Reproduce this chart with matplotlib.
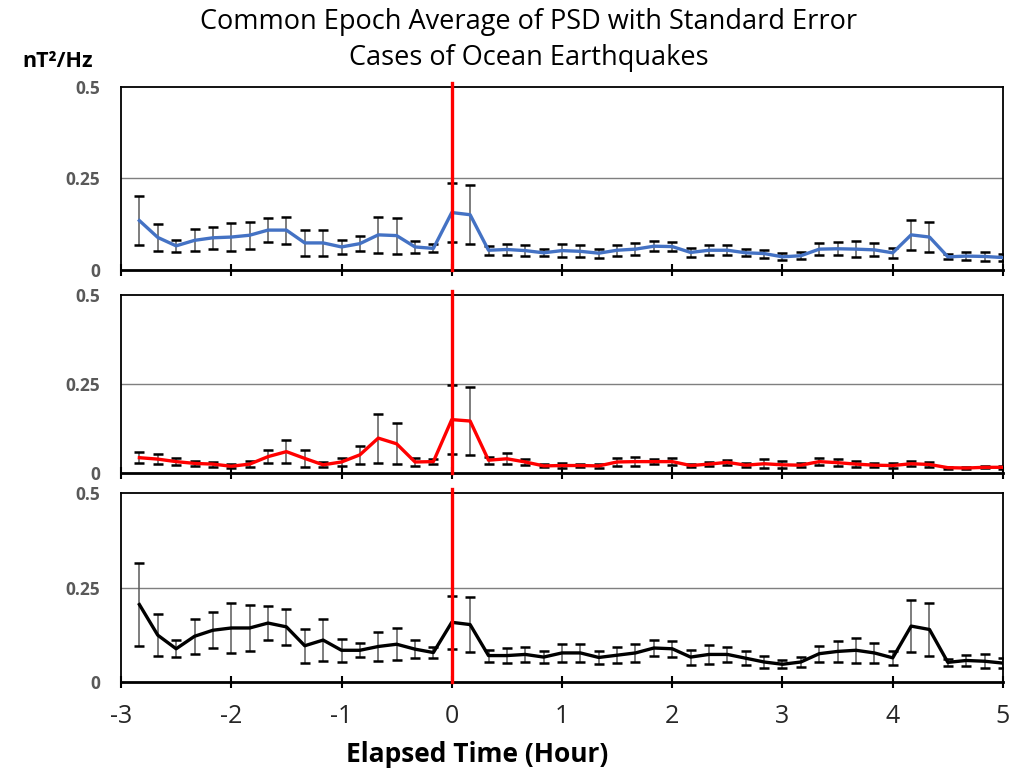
import numpy as np
import matplotlib.pyplot as plt

# elapsed time in minutes, one sample every 10 minutes
minutes = [-170, -160, -150, -140, -130, -120, -110, -100, -90, -80, -70, -60,
           -50, -40, -30, -20, -10, 0, 10, 20, 30, 40, 50, 60, 70, 80, 90, 100,
           110, 120, 130, 140, 150, 160, 170, 180, 190, 200, 210, 220, 230, 240,
           250, 260, 270, 280, 290, 300]

# panel 1 (blue)
psd_1 = [0.135, 0.089, 0.066, 0.081, 0.088, 0.090, 0.095, 0.109, 0.109, 0.074, 0.074,
         0.063, 0.072, 0.096, 0.094, 0.063, 0.059, 0.157, 0.151, 0.054, 0.056,
         0.053, 0.047, 0.053, 0.051, 0.046, 0.054, 0.057, 0.065, 0.064, 0.048, 0.054,
         0.054, 0.047, 0.045, 0.036, 0.039, 0.057, 0.058, 0.057, 0.055, 0.047, 0.096,
         0.090, 0.036, 0.038, 0.037, 0.034]
err_1 = [0.067, 0.037, 0.017, 0.030, 0.030, 0.039, 0.037, 0.032, 0.037, 0.035, 0.036,
         0.020, 0.020, 0.050, 0.049, 0.016, 0.011, 0.080, 0.080, 0.012, 0.015,
         0.014, 0.010, 0.017, 0.016, 0.012, 0.015, 0.016, 0.014, 0.013, 0.012, 0.014,
         0.013, 0.010, 0.011, 0.010, 0.010, 0.016, 0.018, 0.022, 0.018, 0.013, 0.041,
         0.042, 0.007, 0.010, 0.012, 0.010]

# panel 2 (red)
psd_2 = [0.043, 0.039, 0.032, 0.027, 0.025, 0.019, 0.025, 0.046, 0.060, 0.041, 0.023,
         0.031, 0.051, 0.098, 0.082, 0.031, 0.032, 0.150, 0.146, 0.036, 0.040,
         0.031, 0.020, 0.021, 0.021, 0.020, 0.031, 0.032, 0.032, 0.032, 0.021, 0.025,
         0.030, 0.022, 0.026, 0.023, 0.022, 0.032, 0.029, 0.025, 0.022, 0.021, 0.026,
         0.024, 0.015, 0.014, 0.016, 0.016]
err_2 = [0.015, 0.014, 0.010, 0.007, 0.007, 0.005, 0.008, 0.019, 0.032, 0.024, 0.007,
         0.010, 0.025, 0.069, 0.058, 0.010, 0.008, 0.096, 0.096, 0.010, 0.015,
         0.008, 0.004, 0.007, 0.005, 0.005, 0.010, 0.012, 0.008, 0.010, 0.003, 0.005,
         0.007, 0.005, 0.012, 0.010, 0.006, 0.010, 0.010, 0.009, 0.006, 0.007, 0.007,
         0.007, 0.003, 0.003, 0.003, 0.005]

# panel 3 (black)
psd_3 = [0.205, 0.124, 0.088, 0.121, 0.137, 0.143, 0.143, 0.156, 0.146, 0.096, 0.111,
         0.084, 0.084, 0.094, 0.100, 0.087, 0.078, 0.158, 0.152, 0.070, 0.070,
         0.073, 0.066, 0.077, 0.077, 0.065, 0.071, 0.077, 0.090, 0.088, 0.066, 0.073,
         0.073, 0.063, 0.053, 0.047, 0.053, 0.075, 0.081, 0.084, 0.077, 0.064, 0.148,
         0.139, 0.052, 0.057, 0.055, 0.050]
err_3 = [0.110, 0.056, 0.023, 0.046, 0.047, 0.065, 0.062, 0.046, 0.048, 0.045, 0.055,
         0.031, 0.019, 0.038, 0.042, 0.023, 0.014, 0.070, 0.072, 0.016, 0.019,
         0.020, 0.015, 0.023, 0.024, 0.017, 0.021, 0.023, 0.022, 0.021, 0.020, 0.024,
         0.020, 0.018, 0.015, 0.011, 0.014, 0.021, 0.027, 0.033, 0.026, 0.019, 0.068,
         0.069, 0.010, 0.014, 0.019, 0.013]

xticks = [-3, -2, -1, 0, 1, 2, 3, 4, 5]
yticks = [0, 0.25, 0.5]
ytick_labels = ['0', '0.25', '0.5']

plt.rcParams['font.family'] = ['Open Sans', 'DejaVu Sans']

hours = np.array(minutes) / 60.0

fig = plt.figure(figsize=(10.16, 7.71), dpi=100)

# axes boxes in figure fractions [left, bottom, width, height]
boxes = [[0.1191, 0.6498, 0.8681, 0.2374],
         [0.1191, 0.3865, 0.8681, 0.2309],
         [0.1191, 0.1154, 0.8681, 0.2451]]
series = [(psd_1, err_1, '#4472C4'), (psd_2, err_2, '#FF0000'), (psd_3, err_3, 'black')]

for i, (box, (y, e, col)) in enumerate(zip(boxes, series)):
    ax = fig.add_axes(box)
    ax.set_xlim(-3, 5)
    ax.set_ylim(0, 0.5)
    ax.axhline(0.25, color='#7f7f7f', lw=1.0, zorder=1)
    _, caps, _ = ax.errorbar(hours, y, yerr=e, fmt='none', ecolor='#5a5a5a',
                             elinewidth=1.1, capsize=3.3, capthick=1.8, zorder=2)
    # black caps, grey stems
    for c in caps:
        c.set_markeredgecolor('black')
        c.set_markerfacecolor('black')
    ax.plot(hours, y, color=col, lw=2.4, zorder=3)
    ax.plot([0, 0], [0, 0.51], color='#FF0000', lw=2.4, zorder=4, clip_on=False)

    for s in ['top', 'right', 'left']:
        ax.spines[s].set_linewidth(1.3)
    ax.spines['bottom'].set_linewidth(2.0)

    ax.set_xticks(xticks)
    ax.tick_params(axis='x', direction='inout', length=9, width=1.5, colors='black')
    ax.set_yticks(yticks)
    ax.set_yticklabels(ytick_labels, fontsize=12.5, fontweight='bold', color='#595959')
    ax.tick_params(axis='y', length=0, pad=15)
    if i < 2:
        ax.set_xticklabels([])
    else:
        ax.set_xticklabels([str(t) for t in xticks], fontsize=18, color='#262626')
        ax.tick_params(axis='x', pad=11)

fig.text(0.52, 0.972, 'Common Epoch Average of PSD with Standard Error',
         ha='center', va='center', fontsize=19.5)
fig.text(0.52, 0.925, 'Cases of Ocean Earthquakes', ha='center', va='center', fontsize=19.5)
fig.text(0.057, 0.92, 'nT²/Hz', ha='center', va='center', fontsize=15.5, fontweight='bold')
fig.text(0.47, 0.021, 'Elapsed Time (Hour)', ha='center', va='center', fontsize=19,
         fontweight='bold')

plt.savefig('out.png', dpi=100)
